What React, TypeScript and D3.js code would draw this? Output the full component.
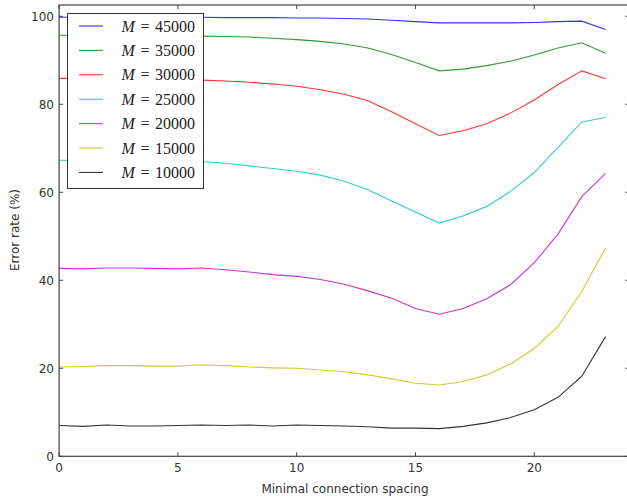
import React from "react";
import * as d3 from "d3";

const xs = d3.range(0, 24);
const labels = ["M=45000", "M=35000", "M=30000", "M=25000", "M=20000", "M=15000", "M=10000"];
const colors = ["#0000ff", "#008000", "#ff0000", "#00bfbf", "#bf00bf", "#bfbf00", "#000000"];
const m45000 = [99.8, 99.8, 99.9, 99.8, 99.8, 99.8, 99.8, 99.7, 99.7, 99.7, 99.6, 99.6, 99.5, 99.4, 99.1, 98.8, 98.5, 98.5, 98.5, 98.5, 98.6, 98.8, 98.9, 97.0];
const m35000 = [95.7, 95.7, 95.6, 95.6, 95.5, 95.5, 95.5, 95.4, 95.3, 95.0, 94.7, 94.3, 93.7, 92.8, 91.3, 89.5, 87.6, 88.0, 88.8, 89.8, 91.2, 92.8, 94.0, 91.6];
const m30000 = [85.9, 85.9, 85.8, 85.8, 85.7, 85.6, 85.5, 85.3, 85.0, 84.6, 84.1, 83.3, 82.3, 80.8, 78.3, 75.6, 72.9, 74.0, 75.6, 78.0, 81.0, 84.5, 87.6, 85.8];
const m25000 = [67.3, 67.2, 67.2, 67.1, 67.1, 67.0, 67.0, 66.6, 66.0, 65.4, 64.8, 63.9, 62.5, 60.6, 58.0, 55.5, 53.0, 54.6, 56.8, 60.2, 64.5, 70.2, 76.0, 77.0];
const m20000 = [42.7, 42.6, 42.8, 42.8, 42.7, 42.6, 42.8, 42.4, 41.9, 41.3, 40.9, 40.2, 39.1, 37.6, 35.9, 33.6, 32.3, 33.6, 35.8, 39.0, 44.0, 50.5, 59.0, 64.3];
const m15000 = [20.3, 20.4, 20.6, 20.6, 20.5, 20.5, 20.8, 20.6, 20.3, 20.1, 20.0, 19.6, 19.2, 18.5, 17.6, 16.6, 16.2, 17.0, 18.5, 21.0, 24.5, 29.5, 37.5, 47.3];
const m10000 = [7.0, 6.8, 7.1, 6.9, 6.9, 7.0, 7.1, 7.0, 7.1, 6.9, 7.1, 7.0, 6.9, 6.7, 6.4, 6.4, 6.3, 6.8, 7.6, 8.8, 10.6, 13.4, 18.2, 27.2];
const series = [m45000, m35000, m30000, m25000, m20000, m15000, m10000];
const xTicks = [0, 5, 10, 15, 20];
const yTicks = [0, 20, 40, 60, 80, 100];

export default function App() {
  const W = 627, H = 502;
  const left = 59.1, right = 629.3, top = 5, bottom = 456.3;
  const x = d3.scaleLinear().domain([0, 24]).range([left, right]);
  const y = d3.scaleLinear().domain([0, 102.57]).range([bottom, top]);
  const line = d3.line<number>().x((_, i) => x(xs[i])).y((d) => y(d));
  const axisColor = "#444";
  const tickFont = "'DejaVu Sans', sans-serif";
  const serif = "'Liberation Serif', 'DejaVu Serif', serif";
  return (
    <svg width={W} height={H} style={{ position: "absolute", left: 0, top: 0, background: "#fff" }}>
      <rect x={0} y={0} width={W} height={H} fill="#fff" />
      {series.map((s, i) => (
        <path key={i} d={line(s) || ""} fill="none" stroke={colors[i]} strokeWidth={1.1} strokeOpacity={0.8} />
      ))}
      <rect x={left} y={top} width={right - left} height={bottom - top} fill="none" stroke={axisColor} strokeWidth={1.2} />
      {xTicks.map((t) => (
        <g key={"x" + t}>
          <line x1={x(t)} x2={x(t)} y1={bottom} y2={bottom - 4} stroke={axisColor} />
          <line x1={x(t)} x2={x(t)} y1={top} y2={top + 4} stroke={axisColor} />
          <text x={x(t)} y={472} fontSize={12} fontFamily={tickFont} textAnchor="middle" fill="#333">{t}</text>
        </g>
      ))}
      {yTicks.map((t) => (
        <g key={"y" + t}>
          <line x1={left} x2={left + 4} y1={y(t)} y2={y(t)} stroke={axisColor} />
          <line x1={right} x2={right - 4} y1={y(t)} y2={y(t)} stroke={axisColor} />
          <text x={54} y={y(t)} dy="0.35em" fontSize={12} fontFamily={tickFont} textAnchor="end" fill="#333">{t}</text>
        </g>
      ))}
      <text x={345} y={493} fontSize={12} fontFamily={tickFont} textAnchor="middle" fill="#333">Minimal connection spacing</text>
      <text transform="translate(19,230) rotate(-90)" fontSize={12} fontFamily={tickFont} textAnchor="middle" fill="#333">Error rate (%)</text>
      <rect x={67.5} y={13.5} width={136} height={175} fill="#fff" stroke="#333" strokeWidth={1} />
      {labels.map((lab, i) => {
        const cy = 26 + i * 24.4;
        const num = lab.split("=")[1];
        return (
          <g key={lab} fontFamily={serif} fontSize={16} fill="#222">
            <line x1={79} x2={103} y1={cy} y2={cy} stroke={colors[i]} strokeWidth={1.1} strokeOpacity={0.8} />
            <text x={121.5} y={cy} dy="0.35em" fontStyle="italic">M</text>
            <text x={145} y={cy} dy="0.35em" textAnchor="middle">=</text>
            <text x={195} y={cy} dy="0.35em" textAnchor="end">{num}</text>
          </g>
        );
      })}
    </svg>
  );
}
